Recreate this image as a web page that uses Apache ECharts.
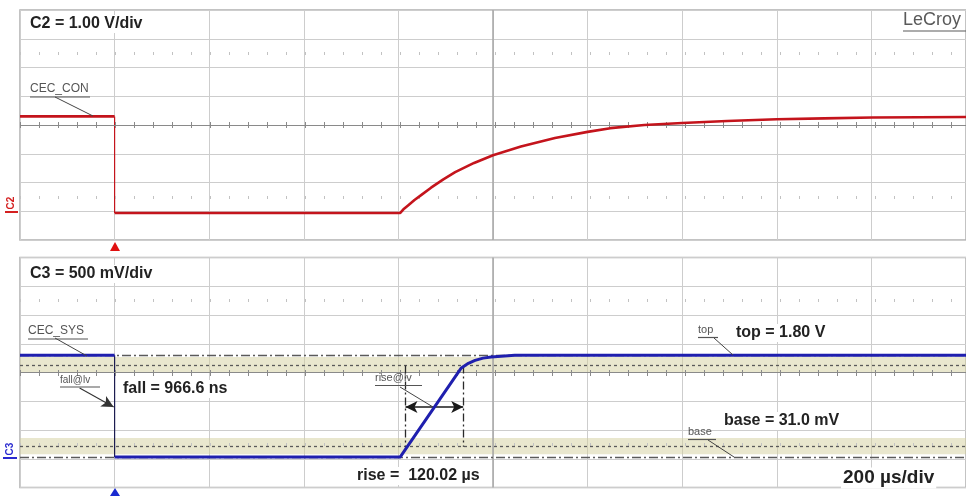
<!DOCTYPE html>
<html>
<head>
<meta charset="utf-8">
<script src="https://cdn.jsdelivr.net/npm/echarts@6/dist/echarts.min.js"></script>
<style>
html, body { margin: 0; padding: 0; background: #fff; }
#chart { width: 966px; height: 496px; }
</style>
</head>
<body>
<div id="chart"></div>
<script>
// time in µs from trigger, 200 µs/div
const timeRange = [-200, 1800]
const timeDiv = 200

// C2 (CEC_CON), volts, 1.00 V/div
const c2Range = [-1, 7]
const c2Div = 1
const c2Center = 3
const cecConHigh = [[-200, 3.3], [0, 3.3]]
const cecConLow = [
	[0, -0.06], [604, -0.06], [612, 0.09], [621, 0.21], [634, 0.39], [648, 0.56], [669, 0.82],
	[695, 1.11], [720, 1.36], [760, 1.68], [800, 1.95], [859, 2.25], [931, 2.55], [1000, 2.76],
	[1048, 2.89], [1120, 3.0], [1200, 3.07], [1295, 3.14], [1400, 3.2], [1500, 3.23], [1602, 3.26],
	[1700, 3.27], [1800, 3.28]
]

// C3 (CEC_SYS), volts, 500 mV/div
const c3Range = [-0.5, 3.5]
const c3Div = 0.5
const c3Center = 1.5
const cecSysHigh = [[-200, 1.8], [0, 1.8]]
const cecSysLow = [
	[0, 0.031], [604, 0.031], [733, 1.58], [748, 1.66], [762, 1.71], [779, 1.75], [796, 1.77],
	[846, 1.8], [1800, 1.8]
]

// measurement levels (V)
const c3Top = 1.8
const c3Base = 0.031
const c3Hi = 1.623
const c3Lo = 0.208
const bandHi = [1.49, 1.77]
const bandLo = [0.08, 0.36]
const riseTimes = [615, 737]
const arrowLevel = 0.9

const chart = echarts.init(document.getElementById("chart"))

const FONT = "'Liberation Sans', Arial, sans-serif"
const gridStyle = { color: "#cdcdcd", width: 1 }

const axisX = (i) => ({
	type: "value", gridIndex: i, min: timeRange[0], max: timeRange[1], interval: timeDiv,
	axisLine: { show: false }, axisTick: { show: false }, axisLabel: { show: false },
	splitLine: { show: true, lineStyle: gridStyle }
})
const axisY = (i, r, d) => ({
	type: "value", gridIndex: i, min: r[0], max: r[1], interval: d,
	axisLine: { show: false }, axisTick: { show: false }, axisLabel: { show: false },
	splitLine: { show: true, lineStyle: gridStyle }
})

const decoLines = (center, div) => [
	{ yAxis: center, lineStyle: { color: "#8a8a8a", width: 1, type: "solid" } },
	{ yAxis: center, lineStyle: { color: "#8a8a8a", width: 6, type: [1, 18] } },
	{ yAxis: center + 2.5 * div, lineStyle: { color: "#c2c2c2", width: 3, type: [1, 18] } },
	{ yAxis: center - 2.5 * div, lineStyle: { color: "#c2c2c2", width: 3, type: [1, 18] } },
	{ xAxis: 800, lineStyle: { color: "#a6a6a6", width: 1.5, type: "solid" } }
]

const underlined = (x, y, text, size, w, color) => [
	{ type: "text", x: x, y: y, z: 20, style: { text: text, font: size + "px " + FONT, fill: color || "#555", verticalAlign: "middle" } },
	{ type: "line", z: 20, shape: { x1: x, y1: y + size / 2 + 2, x2: x + w, y2: y + size / 2 + 2 }, style: { stroke: color || "#555", lineWidth: 1.2 } }
]
const leader = (x1, y1, x2, y2) => ({ type: "line", z: 20, shape: { x1, y1, x2, y2 }, style: { stroke: "#444", lineWidth: 1 } })
const bold = (x, y, text, size) => ({
	type: "text", x: x, y: y, z: 20,
	style: { text: text, font: "bold " + size + "px " + FONT, fill: "#222", verticalAlign: "middle", backgroundColor: "#fff", padding: [1, 2] }
})

const option = {
	backgroundColor: "#fff",
	animation: false,
	grid: [
		{ left: 20, top: 10, width: 950, height: 230, show: true, borderColor: "#b0b0b0", borderWidth: 1.5 },
		{ left: 20, top: 257.5, width: 950, height: 230, show: true, borderColor: "#b0b0b0", borderWidth: 1.5 }
	],
	xAxis: [axisX(0), axisX(1)],
	yAxis: [axisY(0, c2Range, c2Div), axisY(1, c3Range, c3Div)],
	series: [
		{
			name: "grid C2", type: "line", xAxisIndex: 0, yAxisIndex: 0, data: [], z: 1,
			markLine: { silent: true, symbol: "none", label: { show: false }, data: decoLines(c2Center, c2Div) }
		},
		{
			name: "grid C3", type: "line", xAxisIndex: 1, yAxisIndex: 1, data: [], z: 1,
			markArea: {
				silent: true,
				itemStyle: { color: "rgba(212,208,158,0.5)" },
				data: [[{ yAxis: bandHi[0] }, { yAxis: bandHi[1] }], [{ yAxis: bandLo[0] }, { yAxis: bandLo[1] }]]
			},
			markLine: {
				silent: true, symbol: "none", label: { show: false },
				data: decoLines(c3Center, c3Div).concat([
					{ yAxis: c3Top, lineStyle: { color: "#5a5a5a", width: 1.3, type: [9, 3, 2, 3] } },
					{ yAxis: c3Base, lineStyle: { color: "#5a5a5a", width: 1.3, type: [9, 3, 2, 3] } },
					{ yAxis: c3Hi, lineStyle: { color: "#5a5a5a", width: 1.3, type: [3, 3] } },
					{ yAxis: c3Lo, lineStyle: { color: "#5a5a5a", width: 1.3, type: [3, 3] } }
				])
			}
		},
		{
			name: "CEC_CON", type: "line", xAxisIndex: 0, yAxisIndex: 0, data: cecConHigh, z: 5,
			symbol: "none", lineStyle: { color: "#c4141c", width: 2.6 }
		},
		{
			name: "CEC_CON edge", type: "line", xAxisIndex: 0, yAxisIndex: 0, z: 4,
			data: [cecConHigh[cecConHigh.length - 1], cecConLow[0]],
			symbol: "none", lineStyle: { color: "#c4141c", width: 1.2 }
		},
		{
			name: "CEC_CON low", type: "line", xAxisIndex: 0, yAxisIndex: 0, data: cecConLow, z: 5,
			symbol: "none", lineStyle: { color: "#c4141c", width: 2.6, join: "round" }
		},
		{
			name: "CEC_SYS", type: "line", xAxisIndex: 1, yAxisIndex: 1, data: cecSysHigh, z: 5,
			symbol: "none", lineStyle: { color: "#1f1fae", width: 3 }
		},
		{
			name: "CEC_SYS edge", type: "line", xAxisIndex: 1, yAxisIndex: 1, z: 4,
			data: [cecSysHigh[cecSysHigh.length - 1], cecSysLow[0]],
			symbol: "none", lineStyle: { color: "#1c1c50", width: 1.2 }
		},
		{
			name: "CEC_SYS low", type: "line", xAxisIndex: 1, yAxisIndex: 1, data: cecSysLow, z: 5,
			symbol: "none", lineStyle: { color: "#1f1fae", width: 3, join: "round" },
			markLine: {
				silent: true, label: { show: false }, symbol: "none",
				lineStyle: { color: "#2a2a2a", width: 1.3, type: [8, 3, 2, 3] },
				data: [
					[{ coord: [riseTimes[0], c3Hi] }, { coord: [riseTimes[0], c3Lo] }],
					[{ coord: [riseTimes[1], c3Hi] }, { coord: [riseTimes[1], c3Lo] }],
					[{ coord: [riseTimes[0], arrowLevel], symbol: "arrow", symbolSize: [9, 12], lineStyle: { type: "solid", width: 1.5, color: "#1a1a1a" } },
					 { coord: [riseTimes[1], arrowLevel], symbol: "arrow", symbolSize: [9, 12] }],
					[{ coord: [-74, 1.23], symbol: "none", lineStyle: { type: "solid", width: 1.1, color: "#333" } },
					 { coord: [-2, arrowLevel], symbol: "arrow", symbolSize: [9, 12] }]
				]
			}
		}
	],
	graphic: [
		bold(28, 24, "C2 = 1.00 V/div", 16),
		bold(28, 274, "C3 = 500 mV/div", 16),
		...underlined(903, 20, "LeCroy", 18, 63, "#5a5a5a"),
		...underlined(30, 89, "CEC_CON", 12, 60),
		leader(55, 97, 93, 116),
		...underlined(28, 331, "CEC_SYS", 12, 60),
		leader(55, 338, 87, 356),
		...underlined(60, 380, "fall@lv", 10, 40),
		bold(121, 389, "fall = 966.6 ns", 16),
		...underlined(375, 378, "rise@lv", 11, 47),
		leader(400, 387, 433, 407),
		bold(355, 476, "rise =  120.02 µs", 16),
		...underlined(698, 330, "top", 11, 20),
		leader(714, 338, 733, 355),
		bold(734, 333, "top = 1.80 V", 16),
		bold(722, 421, "base = 31.0 mV", 16),
		...underlined(688, 432, "base", 11, 28),
		leader(708, 440, 734, 457),
		bold(841, 478, "200 µs/div", 19),
		{ type: "text", x: 11, y: 203, rotation: Math.PI / 2, style: { text: "C2", font: "bold 10px " + FONT, fill: "#d42020", align: "center", verticalAlign: "middle" } },
		{ type: "line", shape: { x1: 5, y1: 212, x2: 18, y2: 212 }, style: { stroke: "#d42020", lineWidth: 2 } },
		{ type: "text", x: 10, y: 449, rotation: Math.PI / 2, style: { text: "C3", font: "bold 10px " + FONT, fill: "#2a2ad0", align: "center", verticalAlign: "middle" } },
		{ type: "line", shape: { x1: 3, y1: 458, x2: 17, y2: 458 }, style: { stroke: "#2a2ad0", lineWidth: 2 } },
		{ type: "polygon", shape: { points: [[110, 251], [120, 251], [115, 242]] }, style: { fill: "#e01010" } },
		{ type: "polygon", shape: { points: [[110, 496], [120, 496], [115, 488]] }, style: { fill: "#1a2ad0" } }
	]
}
chart.setOption(option)
</script>
</body>
</html>
